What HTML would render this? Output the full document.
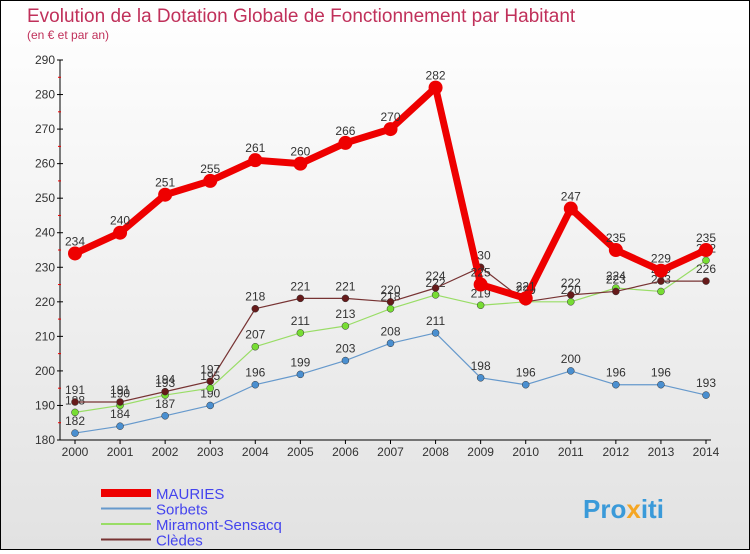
<!DOCTYPE html>
<html><head><meta charset="utf-8"><style>
body{margin:0}
#c{width:748px;height:548px;border:1px solid #000;background:linear-gradient(#fff,#e2e2e2);position:relative;font-family:"Liberation Sans",sans-serif}
</style></head><body>
<div id="c">
<svg id="s" width="748" height="548">
<text x="26" y="21" font-size="19" fill="#c0305a">Evolution de la Dotation Globale de Fonctionnement par Habitant</text>
<text x="26" y="38" font-size="12" fill="#c0305a">(en € et par an)</text>
<text x="582" y="517" font-size="26" font-weight="bold" fill="#3a9ad9">Pro<tspan fill="#f5a623">x</tspan>iti</text>
</svg>
</div>
<script>
const years=[2000,2001,2002,2003,2004,2005,2006,2007,2008,2009,2010,2011,2012,2013,2014];
const yTicks=[180,190,200,210,220,230,240,250,260,270,280,290];
const mauries=[234,240,251,255,261,260,266,270,282,225,221,247,235,229,235];
const sorbets=[182,184,187,190,196,199,203,208,211,198,196,200,196,196,193];
const miramont=[188,190,193,195,207,211,213,218,222,219,220,220,224,223,232];
const cledes=[191,191,194,197,218,221,221,220,224,230,220,222,223,226,226];
const NS="http://www.w3.org/2000/svg";
const s=document.getElementById('s');
const X=i=>74+i*(705-74)/(years.length-1);
const Y=v=>439-(v-180)*(380/110);
function el(t,a,p){const e=document.createElementNS(NS,t);for(const k in a)e.setAttribute(k,a[k]);(p||s).appendChild(e);return e;}
const ax=el('line',{x1:59,y1:Y(290),x2:59,y2:Y(180),stroke:'#000'});

const xa=el('line',{x1:59,y1:Y(180),x2:710,y2:Y(180),stroke:'#000'});

yTicks.forEach(v=>{
 el('line',{x1:56,y1:Y(v),x2:62,y2:Y(v),stroke:'#000'});
 if(v<290)el('line',{x1:57,y1:Y(v+5),x2:60,y2:Y(v+5),stroke:'#e00'});
 const t=el('text',{x:54,y:Y(v)+4,'font-size':12,'text-anchor':'end',fill:'#333'});t.textContent=v;
 
});
years.forEach((yr,i)=>{
 el('line',{x1:X(i),y1:Y(180),x2:X(i),y2:Y(180)+4,stroke:'#000'});
 const t=el('text',{x:X(i),y:Y(180)+16,'font-size':12,'text-anchor':'middle',fill:'#333'});t.textContent=yr;
 
});
const series=[
 {n:'Sorbets',d:sorbets,c:'#6699cc',w:1.2,r:3.5,f:'#4a8fd0'},
 {n:'Miramont-Sensacq',d:miramont,c:'#99dd66',w:1.2,r:3.5,f:'#77dd33'},
 {n:'Clèdes',d:cledes,c:'#773333',w:1.2,r:3.5,f:'#661a1a'},
 {n:'MAURIES',d:mauries,c:'#ee0000',w:7,r:7,f:'#ee0000'}];
series.forEach(se=>{
 const g=el('g',{});
 
 
 el('polyline',{points:se.d.map((v,i)=>X(i)+','+Y(v)).join(' '),fill:'none',stroke:se.c,'stroke-width':se.w,'stroke-linejoin':'round'},g);
 se.d.forEach((v,i)=>{
  const p=el('circle',{cx:X(i),cy:Y(v),r:se.r,fill:se.f,stroke:'#333','stroke-width':se.w>2?0:0.5},g);
  
  const t=el('text',{x:X(i),y:Y(v)-8,'font-size':12,'text-anchor':'middle',fill:'#333'},g);t.textContent=v;
 });
});
const leg=[['MAURIES','#ee0000',8],['Sorbets','#6699cc',2],['Miramont-Sensacq','#99dd66',2],['Clèdes','#773333',2]];
leg.forEach((l,i)=>{
 const y=492+i*15.5;
 const g=el('g',{});
 
 el('line',{x1:100,y1:y,x2:150,y2:y,stroke:l[1],'stroke-width':l[2]},g);
 const t=el('text',{x:155,y:y+6,'font-size':15,fill:'#4444ee'},g);t.textContent=l[0];
});
</script>
</body></html>
